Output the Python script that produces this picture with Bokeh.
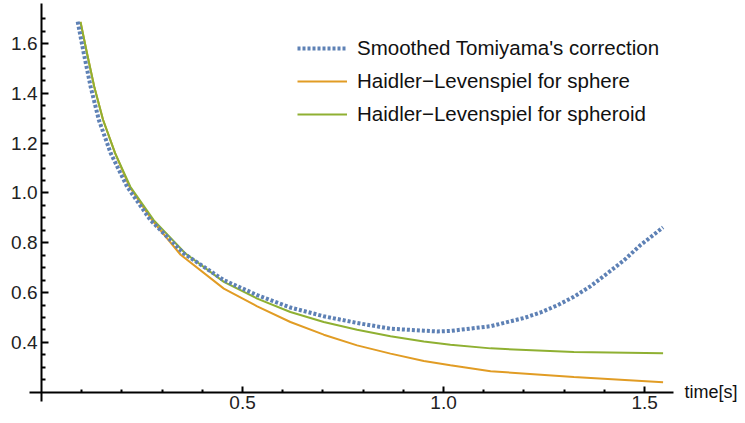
from bokeh.plotting import figure
from bokeh.models import Range1d, FixedTicker, Legend, LegendItem, Label
from bokeh.embed import file_html
from bokeh.resources import INLINE

# ---- data ----
t_tomiyama = [0.09, 0.105, 0.122, 0.1425, 0.172, 0.213, 0.271, 0.354, 0.4535,
              0.5365, 0.619, 0.702, 0.785, 0.868, 0.951, 0.985, 1.017, 1.117, 1.200,
              1.241, 1.283, 1.324, 1.366, 1.407, 1.449, 1.490, 1.546]
tomiyama = [1.688, 1.562, 1.428, 1.294, 1.160, 1.025, 0.891, 0.757, 0.650,
            0.590, 0.540, 0.505, 0.478, 0.455, 0.447, 0.444, 0.446, 0.465, 0.498,
            0.520, 0.549, 0.583, 0.626, 0.677, 0.730, 0.791, 0.862]

t_sphere = [0.097, 0.113, 0.131, 0.153, 0.183, 0.219, 0.275, 0.346, 0.4535,
            0.5365, 0.619, 0.702, 0.785, 0.868, 0.951, 1.017, 1.117, 1.324, 1.546]
hl_sphere = [1.687, 1.562, 1.428, 1.294, 1.160, 1.025, 0.891, 0.752, 0.616,
             0.545, 0.482, 0.431, 0.388, 0.355, 0.325, 0.308, 0.284, 0.261, 0.240]

t_spheroid = [0.097, 0.113, 0.131, 0.153, 0.183, 0.221, 0.279, 0.358, 0.4535,
              0.5365, 0.619, 0.702, 0.785, 0.868, 0.951, 1.017, 1.117, 1.324, 1.546]
hl_spheroid = [1.687, 1.562, 1.428, 1.294, 1.160, 1.025, 0.891, 0.757, 0.643,
               0.576, 0.522, 0.482, 0.451, 0.425, 0.404, 0.391, 0.376, 0.361, 0.356]

series_names = ["Smoothed Tomiyama's correction",
                "Haidler\u2212Levenspiel for sphere",
                "Haidler\u2212Levenspiel for spheroid"]
x_major = [0.5, 1.0, 1.5]
x_minor = [0.1, 0.2, 0.3, 0.4, 0.6, 0.7, 0.8, 0.9, 1.1, 1.2, 1.3, 1.4]
x_labels = {0.5: "0.5", 1.0: "1.0", 1.5: "1.5"}
y_major = [0.4, 0.6, 0.8, 1.0, 1.2, 1.4, 1.6]
y_labels = {0.4: "0.4", 0.6: "0.6", 0.8: "0.8", 1.0: "1.0", 1.2: "1.2", 1.4: "1.4", 1.6: "1.6"}
y_minor = [0.25, 0.3, 0.35, 0.45, 0.5, 0.55, 0.65, 0.7, 0.75, 0.85, 0.9, 0.95,
           1.05, 1.1, 1.15, 1.25, 1.3, 1.35, 1.45, 1.5, 1.55, 1.65, 1.7]
x_title = "time[s]"

FONT = "Liberation Sans"
BLUE = "#5E81B5"
ORANGE = "#E19C24"
GREEN = "#8FB032"

p = figure(width=745, height=423, output_backend="svg", toolbar_location=None,
           x_range=Range1d(-0.102, 1.751), y_range=Range1d(0.0743, 1.773),
           min_border=0)
p.outline_line_color = None
p.xgrid.visible = False
p.ygrid.visible = False
p.background_fill_color = "white"

r_sph = p.line(t_sphere, hl_sphere, line_color=ORANGE, line_width=2)
r_spd = p.line(t_spheroid, hl_spheroid, line_color=GREEN, line_width=2)
r_blue = p.line(t_tomiyama, tomiyama, line_color=BLUE, line_width=4, line_dash="3 2")

for ax in (p.xaxis[0], p.yaxis[0]):
    ax.axis_line_width = 2
    ax.axis_line_color = "black"
    ax.major_tick_line_width = 2
    ax.minor_tick_line_width = 2
    ax.major_tick_out = 0
    ax.minor_tick_out = 0
    ax.major_label_text_font = FONT
    ax.major_label_text_font_size = "19px"
    ax.major_label_text_color = "#222222"

p.xaxis.fixed_location = 0.2
p.yaxis.fixed_location = 0.0
p.xaxis.bounds = (-0.03, 1.572)
p.yaxis.bounds = (0.164, 1.761)
p.xaxis.ticker = FixedTicker(ticks=x_major, minor_ticks=x_minor)
p.yaxis.ticker = FixedTicker(ticks=y_major, minor_ticks=y_minor)
p.xaxis.major_label_overrides = x_labels
p.yaxis.major_label_overrides = y_labels
p.xaxis.major_tick_in = 6
p.xaxis.minor_tick_in = 3
p.yaxis.major_tick_in = 7
p.yaxis.minor_tick_in = 4
p.xaxis.major_label_standoff = 4
p.yaxis.major_label_standoff = 4

legend = Legend(items=[LegendItem(label=series_names[0], renderers=[r_blue]),
                       LegendItem(label=series_names[1], renderers=[r_sph]),
                       LegendItem(label=series_names[2], renderers=[r_spd])],
                location=(297, 297), padding=0, margin=0, spacing=9,
                glyph_width=50, glyph_height=22, label_height=22, label_standoff=10,
                label_text_font=FONT, label_text_font_size="20.5px",
                label_text_color="#111111",
                border_line_alpha=0, background_fill_alpha=0)
p.add_layout(legend, "center")

p.add_layout(Label(x=1.572, y=0.2, x_offset=11, text=x_title, text_baseline="middle",
                   text_font=FONT, text_font_size="18px", text_color="#111111"))

open("out.html", "w").write(file_html(p, INLINE))
